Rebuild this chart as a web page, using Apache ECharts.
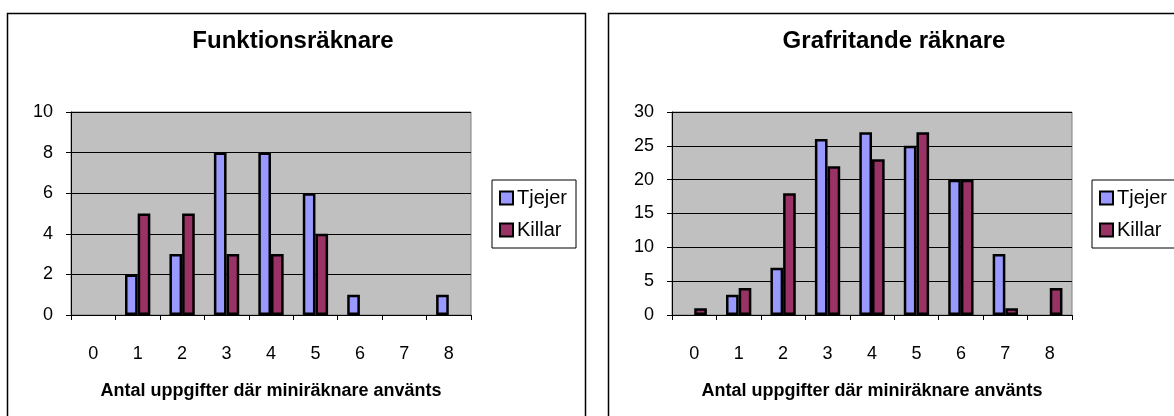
<!DOCTYPE html>
<html>
<head>
<meta charset="utf-8">
<script src="https://cdn.jsdelivr.net/npm/echarts@6/dist/echarts.min.js"></script>
<style>
html,body{margin:0;padding:0;background:#fff;}
#c{width:1174px;height:416px;}
</style>
</head>
<body>
<div id="c"></div>
<script>
const categories = ['0','1','2','3','4','5','6','7','8'];
const seriesNames = ['Tjejer','Killar'];
const titles = ['Funktionsräknare','Grafritande räknare'];
const xAxisTitle = 'Antal uppgifter där miniräknare använts';
// Funktionsräknare
const funkTjejer = [0,2,3,8,8,6,1,0,1];
const funkKillar = [0,5,5,3,3,4,0,0,0];
// Grafritande räknare
const grafTjejer = [0,3,7,26,27,25,20,9,0];
const grafKillar = [1,4,18,22,23,27,20,1,4];
const yMax = [10,30];
const yInterval = [2,5];

const FONT = '"Liberation Sans", Arial, sans-serif';
const colors = ['#9999FF','#993366'];

const gridLeft = [71, 672];
const panelLeft = [7, 608];
const panelW = 578;
const legendLeft = [492, 1092];

const grids = [], xAxes = [], yAxes = [], series = [], titleList = [], legends = [];
const data = [[funkTjejer, funkKillar],[grafTjejer, grafKillar]];

for (let i=0;i<2;i++){
  grids.push({left:gridLeft[i], top:112, width:400, height:203, show:true,
    backgroundColor:'#C0C0C0', borderColor:'#808080', borderWidth:1, containLabel:false});
  xAxes.push({type:'category', gridIndex:i, data:categories,
    axisLine:{show:true, lineStyle:{color:'#000', width:1}},
    axisTick:{show:true, length:5, lineStyle:{color:'#000'}},
    axisLabel:{color:'#000', fontFamily:FONT, fontSize:18, margin:30},
    name:xAxisTitle, nameLocation:'middle', nameGap:67,
    nameTextStyle:{color:'#000', fontFamily:FONT, fontSize:18, fontWeight:'bold'},
    splitLine:{show:false}});
  yAxes.push({type:'value', gridIndex:i, min:0, max:yMax[i], interval:yInterval[i],
    axisLine:{show:true, lineStyle:{color:'#000', width:1}},
    axisTick:{show:true, length:5, lineStyle:{color:'#000'}},
    axisLabel:{color:'#000', fontFamily:FONT, fontSize:18, margin:18},
    splitLine:{show:true, lineStyle:{color:'#000', width:1}}});
  for (let s=0;s<2;s++){
    series.push({type:'bar', name:seriesNames[s], xAxisIndex:i, yAxisIndex:i,
      data:data[i][s].map(v => v === 0 ? {value:v, itemStyle:{borderWidth:0}} : v),
      barGap:'0%', barCategoryGap:'43%',
      itemStyle:{color:colors[s], borderColor:'#000', borderWidth:2.5},
      emphasis:{disabled:true}, animation:false});
  }
  titleList.push({text:titles[i], left:panelLeft[i]+panelW/2 - 3, textAlign:'center', top:29, padding:0,
    textStyle:{color:'#000', fontFamily:FONT, fontSize:24, fontWeight:'bold'}});
  legends.push({orient:'vertical', left:legendLeft[i], top:180, padding:[8,9,8,7],
    itemWidth:13, itemHeight:13, itemGap:12, icon:'rect',
    borderColor:'#000', borderWidth:1, backgroundColor:'#fff',
    data:seriesNames.map(n=>({name:n})),
    itemStyle:{borderWidth:2, borderColor:'#000'},
    textStyle:{color:'#000', fontFamily:FONT, fontSize:20, padding:[0,0,0,-1]},
    selectedMode:false});
}

const chart = echarts.init(document.getElementById('c'), null, {renderer:'canvas'});
chart.setOption({
  animation:false,
  title:titleList,
  legend:legends,
  grid:grids,
  xAxis:xAxes,
  yAxis:yAxes,
  series:series,
  graphic:[
    {type:'rect', shape:{x:panelLeft[0]+0.5, y:13.5, width:panelW, height:440}, z:-10,
      style:{fill:'#fff', stroke:'#000', lineWidth:1.5}},
    {type:'rect', shape:{x:panelLeft[1]+0.5, y:13.5, width:panelW, height:440}, z:-10,
      style:{fill:'#fff', stroke:'#000', lineWidth:1.5}}
  ]
});
</script>
</body>
</html>
